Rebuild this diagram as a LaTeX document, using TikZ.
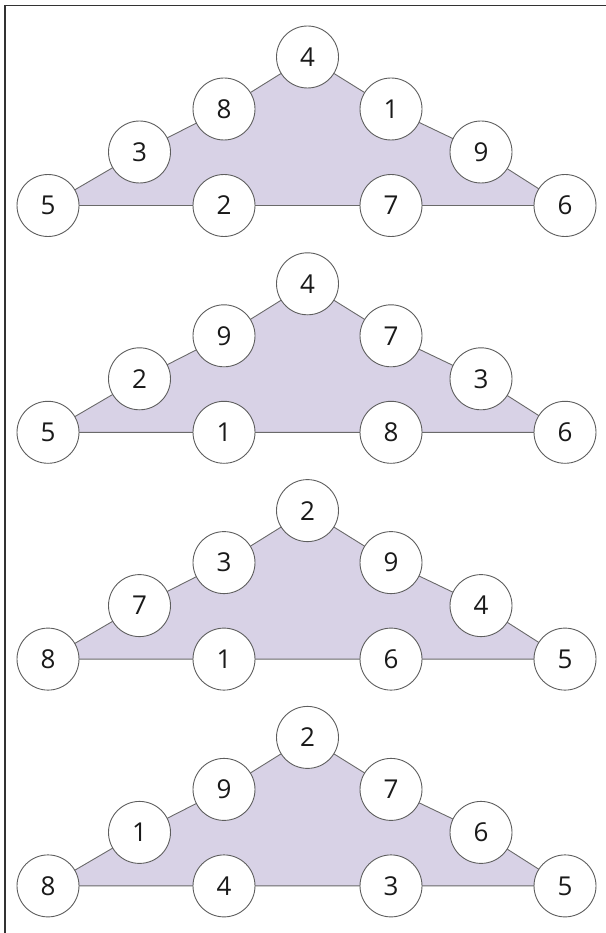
\documentclass[tikz,border=0pt]{standalone}
\usepackage{fontspec}
\setmainfont{Open Sans}
\definecolor{lavender}{HTML}{D8D2E6}
\definecolor{circgray}{HTML}{5E5E5E}
\definecolor{linegray}{HTML}{6A6A6A}
\definecolor{framegray}{HTML}{333333}
\definecolor{digit}{HTML}{1A1A1A}
\begin{document}
\begin{tikzpicture}[x=1pt,y=-1pt,
  num/.style={circle, draw=circgray, fill=white, line width=0.9pt,
    minimum size=62pt, inner sep=0pt, text=digit,
    font=\fontsize{26}{26}\selectfont},
  edge/.style={draw=linegray, line width=0.9pt},
  area/.style={fill=lavender}]
\useasboundingbox (0,0) rectangle (605,933);
% outer frame
\draw[framegray, line width=1.5pt] (5,934) -- (5,5.5) -- (606,5.5);
% four triangles: left corner, left side (low, high), apex,
% right side (high, low), right corner, base (left, right)
\foreach \a/\b/\c/\d/\e/\f/\g/\h/\i [count=\k from 0] in
  {5/3/8/4/1/9/6/2/7,
   5/2/9/4/7/3/6/1/8,
   8/7/3/2/9/4/5/1/6,
   8/1/9/2/7/6/5/4/3}{
  \begin{scope}[yshift={-226.8pt*\k}]
    \coordinate (c\k-1) at (48,205.5);
    \coordinate (c\k-2) at (139.5,152);
    \coordinate (c\k-3) at (224,109);
    \coordinate (c\k-4) at (307.5,57);
    \coordinate (c\k-5) at (391,109);
    \coordinate (c\k-6) at (481,152);
    \coordinate (c\k-7) at (565,205.5);
    \coordinate (c\k-8) at (224,205.5);
    \coordinate (c\k-9) at (391,205.5);
    \fill[area] (c\k-1) -- (c\k-2) -- (c\k-3) -- (c\k-4) -- (c\k-5)
      -- (c\k-6) -- (c\k-7) -- cycle;
    \draw[edge] (c\k-1) -- (c\k-2) -- (c\k-3) -- (c\k-4) -- (c\k-5)
      -- (c\k-6) -- (c\k-7) -- (c\k-9) -- (c\k-8) -- cycle;
    \node[num] (n\k-1) at (c\k-1) {\a};
    \node[num] (n\k-2) at (c\k-2) {\b};
    \node[num] (n\k-3) at (c\k-3) {\c};
    \node[num] (n\k-4) at (c\k-4) {\d};
    \node[num] (n\k-5) at (c\k-5) {\e};
    \node[num] (n\k-6) at (c\k-6) {\f};
    \node[num] (n\k-7) at (c\k-7) {\g};
    \node[num] (n\k-8) at (c\k-8) {\h};
    \node[num] (n\k-9) at (c\k-9) {\i};
  \end{scope}
}
\end{tikzpicture}
\end{document}
